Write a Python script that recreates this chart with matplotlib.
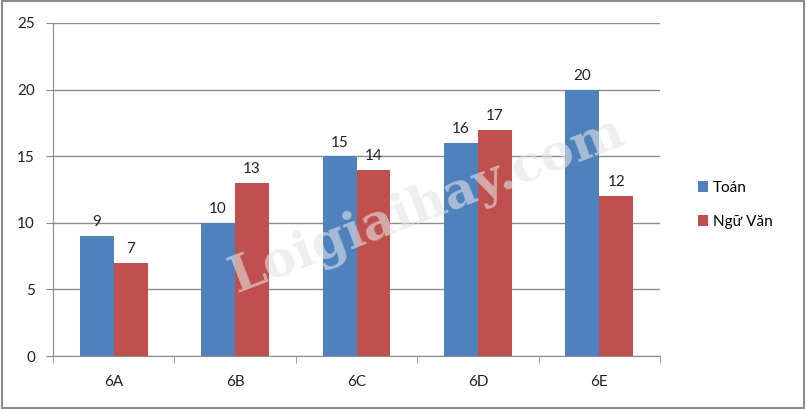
import matplotlib.pyplot as plt
import numpy as np
from matplotlib.patches import Rectangle

classes = ["6A", "6B", "6C", "6D", "6E"]
toan = [9, 10, 15, 16, 20]
ngu_van = [7, 13, 14, 17, 12]

plt.rcParams['font.family'] = ['Lato', 'DejaVu Sans']

fig = plt.figure(figsize=(8.06, 4.09), dpi=100)
ax = fig.add_axes([53 / 806, 53 / 409, 607 / 806, 333 / 409])

x = np.arange(len(classes))
w = 0.28
b1 = ax.bar(x - w / 2, toan, w, color='#4F81BD', label='Toán')
b2 = ax.bar(x + w / 2, ngu_van, w, color='#C0504D', label='Ngữ Văn')
for bars in (b1, b2):
    for r in bars:
        ax.text(r.get_x() + r.get_width() / 2, r.get_height() + 0.5, f"{int(r.get_height())}",
                ha='center', va='bottom', fontsize=11, color='#222222')

ax.set_xlim(-0.5, len(classes) - 0.5)
ax.set_ylim(0, 25)
ax.set_yticks(range(0, 26, 5))
ax.set_xticks(x)
ax.set_xticklabels(classes)
ax.set_xticks(np.arange(-0.5, len(classes)), minor=True)
ax.tick_params(axis='x', which='major', length=0, pad=14, labelsize=11, colors='#222222')
ax.tick_params(axis='x', which='minor', length=5, color='#888888', direction='out')
ax.tick_params(axis='y', length=5, labelsize=11, pad=8, colors='#888888', labelcolor='#222222')
ax.grid(axis='y', color='#8c8c8c', linewidth=1)
ax.set_axisbelow(True)
for s in ['top', 'right']:
    ax.spines[s].set_visible(False)
for s in ['left', 'bottom']:
    ax.spines[s].set_color('#8c8c8c')

fig.legend(handles=[b1, b2], loc='center left', bbox_to_anchor=(684 / 806, 1 - 205 / 409),
           frameon=False, fontsize=11, handlelength=0.7, handleheight=0.7,
           handletextpad=0.3, labelspacing=1.3)

# faint watermark
fig.text(0.53, 0.5, "Loigiaihay.com", fontsize=36, fontweight='bold', family='DejaVu Serif',
         color='#e4e4e4', alpha=0.6, rotation=21, ha='center', va='center', zorder=0)

fig.patches.append(Rectangle((0.002, 0.003), 0.996, 0.994, transform=fig.transFigure,
                             fill=False, edgecolor='#8c8c8c', linewidth=1.5))

fig.savefig("out.png", dpi=100)
